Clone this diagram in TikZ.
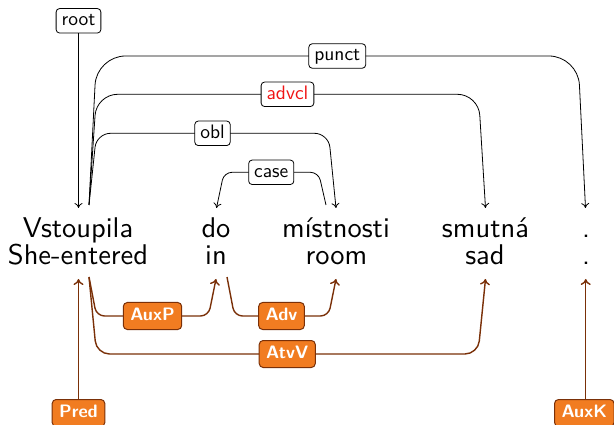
\documentclass[tikz,border=0pt]{standalone}
\usetikzlibrary{arrows.meta}
\font\wordfont="[lmsans10-regular.otf]" at 28.5pt
\font\labfont="[lmsans10-regular.otf]" at 19.5pt
\font\boldlab="[lmsans10-bold.otf]" at 18pt
\definecolor{depbrown}{RGB}{122,48,8}
\definecolor{deporange}{RGB}{241,124,33}
\definecolor{depred}{RGB}{240,20,20}
\begin{document}
\begin{tikzpicture}[x=1pt,y=-1pt,
  word/.style={anchor=base, inner sep=0pt, font=\wordfont},
  deplab/.style={draw=black, fill=white, rounded corners=3.5pt, line width=0.8pt,
    font=\labfont, text height=13.5pt, text depth=4pt, inner xsep=5.5pt, inner ysep=3.5pt},
  tlab/.style={draw=depbrown, fill=deporange, rounded corners=4pt, line width=1pt,
    font=\boldlab, text=white, text height=12.5pt, text depth=3.5pt, inner xsep=7pt, inner ysep=5.5pt},
  upedge/.style={draw=black, line width=0.8pt, -{To[length=5pt,width=8pt]}},
  lowedge/.style={draw=depbrown, line width=1.4pt, -{To[length=6pt,width=10pt]}},
]
\useasboundingbox (0,0) rectangle (614,425);

% words
\node[word] (w1) at (78,237.3) {Vstoupila};
\node[word] (g1) at (78,264.3) {She-entered};
\node[word] (w2) at (216,237.3) {do};
\node[word] (g2) at (216,264.3) {in};
\node[word] (w3) at (336,237.3) {místnosti};
\node[word] (g3) at (336.5,264.3) {room};
\node[word] (w4) at (485.5,237.3) {smutná};
\node[word] (g4) at (485,264.3) {sad};
\node[word] (w5) at (586,237.3) {.};
\node[word] (g5) at (586,264.3) {.};

% edge end points
\coordinate (s1u) at (89,205);
\coordinate (e1u) at (78.5,208);
\coordinate (e2u) at (216.5,208);
\coordinate (s3u) at (326,205);
\coordinate (e3u) at (336,208);
\coordinate (e4u) at (485.5,208);
\coordinate (e5u) at (585.5,208);
\coordinate (s1d) at (89,277);
\coordinate (s2d) at (227,277);
\coordinate (e1d) at (78.5,279);
\coordinate (e2d) at (216,279);
\coordinate (e3d) at (336,279);
\coordinate (e4d) at (485.5,279);
\coordinate (e5d) at (585.7,279);

% upper (UD) edges
\node[deplab] (root) at (78.5,20.8) {root};
\draw[upedge] (root) -- (e1u);
\draw[upedge, rounded corners=29pt] (s1u) -- (96.5,56) -- node[deplab] (lpunct) {punct} (578,56) -- (e5u);
\draw[upedge, rounded corners=21pt] (s1u) -- (96.5,94.3) -- node[deplab, text=depred] (ladvcl) {advcl} (478.5,94.3) -- (e4u);
\draw[upedge, rounded corners=14pt] (s1u) -- (96.5,133.3) -- node[deplab] (lobl) {obl} (328.5,133.3) -- (e3u);
\draw[upedge, rounded corners=8pt] (s3u) -- (318.5,172.3) -- node[deplab] (lcase) {case} (224,172.3) -- (e2u);

% lower (PDT) edges
\draw[lowedge, rounded corners=8pt] (s1d) -- (96.5,316) -- node[tlab] (lauxp) {AuxP} (208.5,316) -- (e2d);
\draw[lowedge, rounded corners=8pt] (s2d) -- (234.5,316) -- node[tlab] (ladv) {Adv} (328.5,316) -- (e3d);
\draw[lowedge, rounded corners=13pt] (s1d) -- (96.5,354) -- node[tlab] (latvv) {AtvV} (478,354) -- (e4d);
\node[tlab] (pred) at (78.5,413) {Pred};
\draw[lowedge] (pred) -- (e1d);
\node[tlab] (auxk) at (584.3,413) {AuxK};
\draw[lowedge] (auxk.north -| e5d) -- (e5d);
\end{tikzpicture}
\end{document}
